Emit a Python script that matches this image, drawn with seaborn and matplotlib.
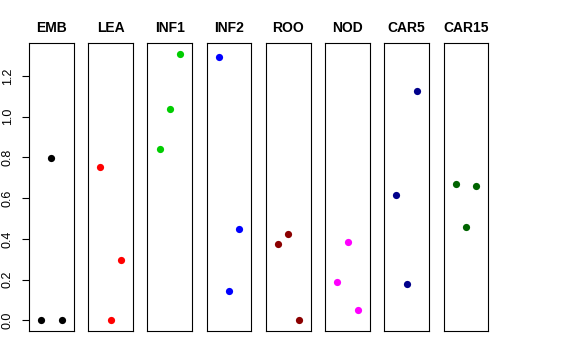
import matplotlib
matplotlib.use("Agg")
import matplotlib.pyplot as plt
import seaborn as sns
import pandas as pd

tissues = ["EMB", "LEA", "INF1", "INF2", "ROO", "NOD", "CAR5", "CAR15"]
rep1 = [0.0, 0.755, 0.841, 1.292, 0.374, 0.188, 0.615, 0.669]
rep2 = [0.797, 0.0, 1.036, 0.146, 0.423, 0.384, 0.180, 0.459]
rep3 = [0.0, 0.297, 1.310, 0.448, 0.0, 0.053, 1.126, 0.662]
colors = ["#000000", "#FF0000", "#00CD00", "#0000FF", "#8B0000", "#FF00FF", "#00008B", "#006400"]
yticks = [0.0, 0.2, 0.4, 0.6, 0.8, 1.0, 1.2]

sns.set_theme(style="white")
plt.rcParams["font.family"] = ["Liberation Sans", "DejaVu Sans"]

rows = []
for t, a, b, c in zip(tissues, rep1, rep2, rep3):
    for r, v in zip(["r1", "r2", "r3"], [a, b, c]):
        rows.append({"tissue": t, "rep": r, "value": v})
df = pd.DataFrame(rows)

fig, axes = plt.subplots(1, len(tissues), figsize=(5.76, 3.6), dpi=100, sharey=True)
fig.subplots_adjust(left=29/576, right=488.3/576, top=1-43/360, bottom=1-331/360, wspace=0.327)

for i, (ax, t, col) in enumerate(zip(axes, tissues, colors)):
    sub = df[df["tissue"] == t]
    sns.stripplot(data=sub, x="rep", y="value", order=["r1", "r2", "r3"], ax=ax,
                  jitter=False, color=col, size=5.2, linewidth=0)
    ax.set_xlim(-1.17, 3.17)
    ax.set_ylim(-0.0524, 1.362)
    ax.set_xticks([])
    ax.set_xlabel("")
    ax.set_ylabel("")
    ax.set_title(t, fontsize=10, fontweight="bold", pad=8, color="black")
    for s in ax.spines.values():
        s.set_visible(True)
        s.set_color("black")
        s.set_linewidth(0.8)
    if i == 0:
        ax.set_yticks(yticks)
        ax.set_yticklabels([f"{v:.1f}" for v in yticks], rotation=90, va="center", fontsize=9)
        ax.tick_params(axis="y", left=True, length=5, width=0.8, color="black", pad=6, labelcolor="black")
    else:
        ax.tick_params(axis="y", left=False, labelleft=False)

fig.savefig("out.png", dpi=100, facecolor="white")
